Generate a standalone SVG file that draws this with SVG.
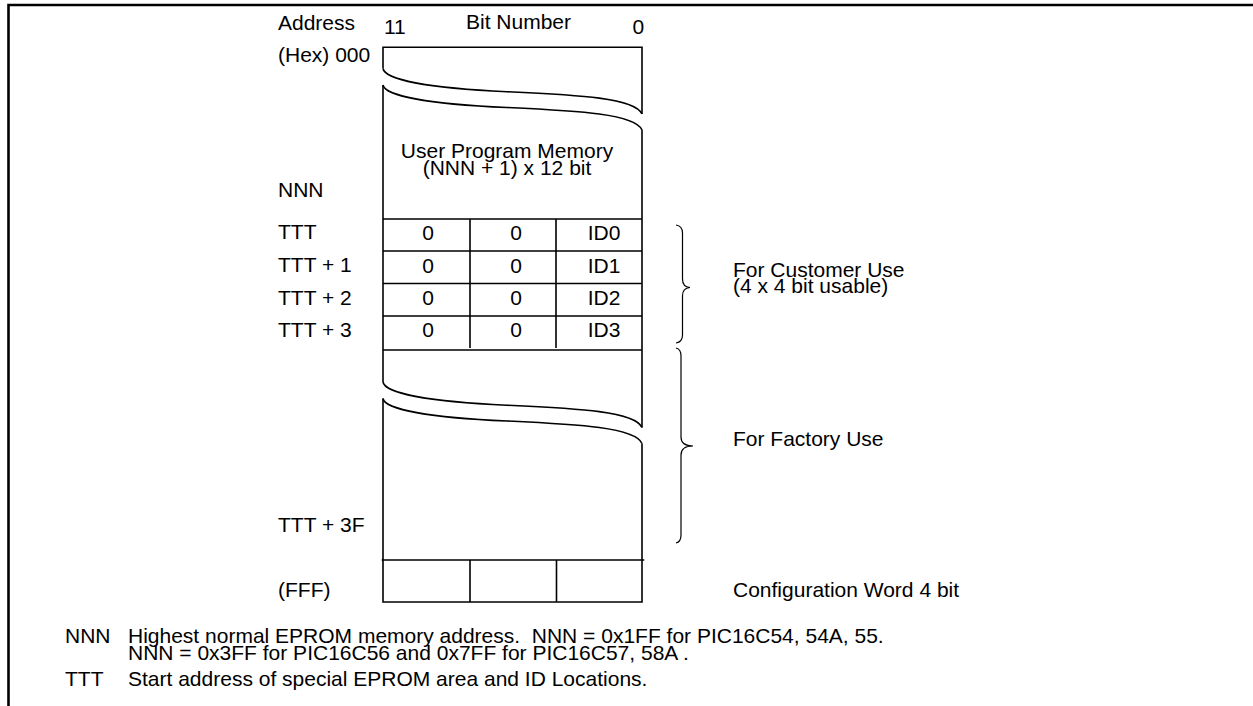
<svg xmlns="http://www.w3.org/2000/svg" width="1253" height="706" viewBox="0 0 1253 706">
<style>
text{font-family:"Liberation Sans",Arial,Helvetica,sans-serif;font-size:21px;fill:#000;white-space:pre}
.m{text-anchor:middle}
.ln{fill:none;stroke:#000;stroke-width:1.6}
.br{fill:none;stroke:#000;stroke-width:1.2}
</style>
<rect x="0" y="0" width="1253" height="706" fill="#fff"/>
<path d="M8.5,706 V5 H1253" fill="none" stroke="#000" stroke-width="2.6"/>

<g id="header">
<text x="278" y="30">Address</text>
<text x="384" y="34.3">11</text>
<text x="466" y="29.3">Bit Number</text>
<text x="632.5" y="34.3">0</text>
</g>

<g id="address-labels">
<text x="278" y="61.7">(Hex) 000</text>
<text x="278" y="196.7">NNN</text>
<text x="278" y="238.5">TTT</text>
<text x="278" y="271.7">TTT + 1</text>
<text x="278" y="305">TTT + 2</text>
<text x="278" y="336.7">TTT + 3</text>
<text x="278" y="532.3">TTT + 3F</text>
<text x="278" y="597">(FFF)</text>
</g>

<g id="memory-box">
<path class="ln" d="M383,68.5 V47.3 H642 V114"/>
<path class="ln" d="M383,68.5 C385,80 430,88 507,91.7 C580,95 635,98 642,114"/>
<path class="ln" d="M383,85 C385,96 430,104 507,107.5 C580,111 635,114 642,130"/>
<path class="ln" d="M383,85 V382"/>
<path class="ln" d="M642,130 V427.5"/>
<path class="ln" d="M383,382 C385,393.5 430,401.5 507,405.2 C580,408.5 635,411.5 642,427.5"/>
<path class="ln" d="M383,398.5 C385,409.5 430,417.5 507,421 C580,424.5 635,427.5 642,443.5"/>
<path class="ln" d="M383,398.5 V602 H642 V443.5"/>
</g>

<g id="user-program">
<text class="m" x="507" y="158.3">User Program Memory</text>
<text class="m" x="507" y="175">(NNN + 1) x 12 bit</text>
</g>

<g id="id-locations">
<path class="ln" d="M383,219 H642 M383,251 H642 M383,283.5 H642 M383,316 H642 M383,350 H642 M470,219 V348 M556,219 V348"/>
<text class="m" x="428" y="239.5">0</text>
<text class="m" x="516" y="239.5">0</text>
<text class="m" x="604" y="239.5">ID0</text>
<text class="m" x="428" y="272.5">0</text>
<text class="m" x="516" y="272.5">0</text>
<text class="m" x="604" y="272.5">ID1</text>
<text class="m" x="428" y="305">0</text>
<text class="m" x="516" y="305">0</text>
<text class="m" x="604" y="305">ID2</text>
<text class="m" x="428" y="337">0</text>
<text class="m" x="516" y="337">0</text>
<text class="m" x="604" y="337">ID3</text>
</g>

<g id="config-word">
<path class="ln" d="M381.7,560 H644.3 M470,560 V602 M556.5,560 V602"/>
</g>

<g id="connectors">
<path class="br" d="M676,225 Q682.5,226 682.5,233 V279 Q682.5,287 690,287.5 Q682.5,288 682.5,296 V335 Q682.5,342 676,343"/>
<path class="br" d="M676,348 Q681,349 681,356 V437 Q681,446 693,446 Q681,446 681,455 V535 Q681,542 676,543"/>
</g>

<g id="right-labels">
<text x="733" y="277">For Customer Use</text>
<text x="733" y="293">(4 x 4 bit usable)</text>
<text x="733" y="446">For Factory Use</text>
<text x="733" y="597">Configuration Word 4 bit</text>
</g>

<g id="notes">
<text x="65" y="643">NNN</text>
<text x="128" y="643">Highest normal EPROM memory address.  NNN = 0x1FF for PIC16C54, 54A, 55.</text>
<text x="128" y="660">NNN = 0x3FF for PIC16C56 and 0x7FF for PIC16C57, 58A .</text>
<text x="65" y="686">TTT</text>
<text x="128" y="686">Start address of special EPROM area and ID Locations.</text>
</g>
</svg>
